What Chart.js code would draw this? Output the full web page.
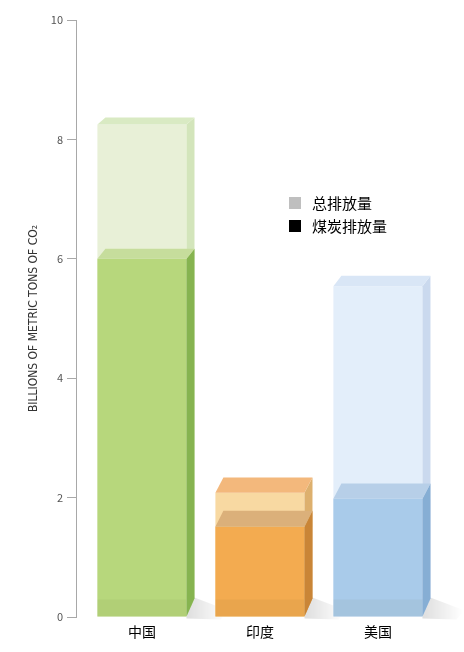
<!DOCTYPE html>
<html>
<head>
<meta charset="utf-8">
<script src="https://cdn.jsdelivr.net/npm/chart.js@4.4.0/dist/chart.umd.min.js"></script>
<style>
  html, body { margin: 0; padding: 0; background: #fff; }
  #wrap { width: 464px; height: 652px; position: relative; }
</style>
</head>
<body>
<div id="wrap"><canvas id="emisionesChart"></canvas></div>
<script>
const categories = ["中国", "印度", "美国"];
const totalEmissions = [8.25, 2.08, 5.54];
const coalEmissions = [6.0, 1.51, 1.98];
const yTicks = [0, 2, 4, 6, 8, 10];
const seriesLabels = ["总排放量", "煤炭排放量"];
const yTitle = "BILLIONS OF METRIC TONS OF CO₂";

// colores por país: cara frontal, lateral y superior
const totalFront = ["#e8f0d7", "#f8d9a2", "#e3eefa"];
const totalSide = ["#d3e5bb", "#ddb06e", "#cad9ee"];
const totalTop = ["#d9eac3", "#f3b87c", "#d9e6f6"];
const coalFront = ["#b7d77c", "#f3ab50", "#a9cbea"];
const coalSide = ["#86b450", "#c98537", "#86aed4"];
const coalTop = ["#c6dd9c", "#dbb07a", "#b7cfe8"];
const legendColors = ["#bfbfbf", "#000000"];

const DEPTH_X = 8;
// profundidad vertical de la cara superior (perspectiva)
const topDepth = (y) => 0.0224 * (y + 188);

const drawBox = (ctx, el, side, top, band) => {
  const { x, y, base, width } = el.getProps(["x", "y", "base", "width"], true);
  const l = x - width / 2;
  const r = x + width / 2;
  const dt = topDepth(y);
  const db = topDepth(base);
  ctx.save();
  if (band) {
    // franja inferior un poco más oscura (reflejo del suelo)
    ctx.fillStyle = "rgba(90,90,40,0.06)";
    ctx.fillRect(l, base - 17, width, 17);
  }
  ctx.fillStyle = side;
  ctx.beginPath();
  ctx.moveTo(r, y);
  ctx.lineTo(r + DEPTH_X, y - dt);
  ctx.lineTo(r + DEPTH_X, base - db);
  ctx.lineTo(r, base);
  ctx.closePath();
  ctx.fill();
  ctx.fillStyle = top;
  ctx.beginPath();
  ctx.moveTo(l, y);
  ctx.lineTo(l + DEPTH_X, y - dt);
  ctx.lineTo(r + DEPTH_X, y - dt);
  ctx.lineTo(r, y);
  ctx.closePath();
  ctx.fill();
  ctx.restore();
};

const boxPlugin = {
  id: "box3d",
  beforeDatasetsDraw(chart) {
    // sombra en el suelo
    const ctx = chart.ctx;
    const meta = chart.getDatasetMeta(0);
    meta.data.forEach((el) => {
      const { x, base, width } = el.getProps(["x", "base", "width"], true);
      const r = x + width / 2;
      const g = ctx.createLinearGradient(r, 0, r + 40, 0);
      g.addColorStop(0, "rgba(0,0,0,0.13)");
      g.addColorStop(1, "rgba(0,0,0,0)");
      ctx.save();
      ctx.fillStyle = g;
      ctx.beginPath();
      ctx.moveTo(r, base - 22);
      ctx.lineTo(r + 42, base - 6);
      ctx.lineTo(r + 34, base + 3);
      ctx.lineTo(r, base + 2);
      ctx.closePath();
      ctx.fill();
      ctx.restore();
    });
  },
  afterDatasetDraw(chart, args) {
    const ctx = chart.ctx;
    const isTotal = args.index === 0;
    args.meta.data.forEach((el, i) => {
      drawBox(
        ctx,
        el,
        isTotal ? totalSide[i] : coalSide[i],
        isTotal ? totalTop[i] : coalTop[i],
        !isTotal
      );
    });
  },
  afterDraw(chart) {
    const ctx = chart.ctx;
    ctx.save();
    ctx.font = "15px 'Noto Sans CJK SC', sans-serif";
    ctx.textBaseline = "middle";
    seriesLabels.forEach((label, i) => {
      const y = 203 + i * 23;
      ctx.fillStyle = legendColors[i];
      ctx.fillRect(289, y - 6, 12, 12);
      ctx.fillStyle = "#000";
      ctx.fillText(label, 312, y);
    });
    ctx.restore();
  },
};

Chart.defaults.font.family = "'Noto Sans CJK SC', 'Noto Sans', sans-serif";

const ctx = document.getElementById("emisionesChart").getContext("2d");
const emisionesChart = new Chart(ctx, {
  type: "bar",
  data: {
    datasets: [
      {
        label: seriesLabels[0],
        data: totalEmissions.map((v, i) => ({ x: i, y: v })),
        backgroundColor: totalFront,
        order: 1,
      },
      {
        label: seriesLabels[1],
        data: coalEmissions.map((v, i) => ({ x: i, y: v })),
        backgroundColor: coalFront,
        order: 0,
      },
    ],
  },
  plugins: [boxPlugin],
  options: {
    responsive: true,
    maintainAspectRatio: false,
    animation: false,
    grouped: false,
    categoryPercentage: 0.755,
    barPercentage: 1,
    borderWidth: 0,
    layout: { padding: { top: 20, right: 18, left: 0, bottom: 0 } },
    plugins: { legend: { display: false }, tooltip: { enabled: false } },
    scales: {
      x: {
        type: "linear",
        offset: false,
        min: -0.559,
        max: 2.577,
        grid: { display: false, drawTicks: false },
        border: { display: false },
        afterBuildTicks: (s) => {
          s.ticks = categories.map((c, i) => ({ value: i }));
        },
        afterFit: (s) => {
          s.height = 35;
        },
        ticks: {
          padding: 6,
          color: "#000",
          font: { size: 14 },
          callback: (v) => categories[v] ?? "",
        },
      },
      y: {
        min: 0,
        max: 10,
        afterBuildTicks: (s) => {
          s.ticks = yTicks.map((v) => ({ value: v }));
        },
        afterFit: (s) => {
          s.width = 76;
        },
        grid: {
          drawOnChartArea: false,
          drawTicks: true,
          tickLength: 9,
          color: "#a8a8a8",
        },
        border: { display: true, color: "#a8a8a8" },
        ticks: {
          padding: 4,
          color: "#555",
          font: { size: 11 },
        },
        title: {
          display: true,
          text: yTitle,
          color: "#333",
          padding: { top: 27, bottom: 0 },
          font: { family: "'Liberation Sans Narrow', 'DejaVu Sans Condensed', sans-serif", size: 12 },
        },
      },
    },
  },
});
</script>
</body>
</html>
